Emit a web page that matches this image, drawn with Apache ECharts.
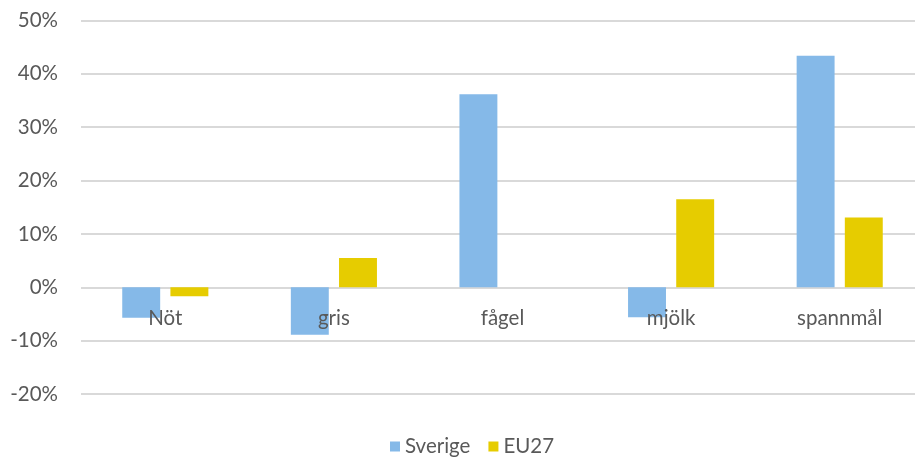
<!DOCTYPE html>
<html>
<head>
<meta charset="utf-8">
<script src="https://cdn.jsdelivr.net/npm/echarts@6/dist/echarts.min.js"></script>
<style>
  html, body { margin: 0; padding: 0; background: #fff; }
  #chart { width: 915px; height: 458px; }
</style>
</head>
<body>
<div id="chart"></div>
<script>
// data (percent)
var categories = ['Nöt', 'gris', 'fågel', 'mjölk', 'spannmål'];
var sverige = [-5.7, -8.9, 36.2, -5.6, 43.4];
var eu27 = [-1.7, 5.5, 0, 16.5, 13.1];
var seriesNames = ['Sverige', 'EU27'];

var textColor = '#595959',
    lineColor = '#d9d9d9',
    font = 'Lato',
    fontSize = 20.5;

var myChart = echarts.init(document.getElementById('chart'));
var option = {
  animation: false,
  textStyle: { fontFamily: font },
  // plot area runs a little past the right edge, as in the original crop
  grid: { left: 81, width: 843, top: 20.5, height: 373.5, outerBoundsMode: 'none' },
  legend: {
    data: seriesNames,
    top: 431,
    left: 385,
    itemWidth: 10,
    itemHeight: 10,
    itemGap: 18,
    icon: 'rect',
    textStyle: { color: textColor, fontSize: fontSize, fontFamily: font }
  },
  xAxis: {
    type: 'category',
    data: categories,
    z: 5,
    offset: -107,   // labels sit next to the 0% line
    axisLine: { show: false },
    axisTick: { show: false },
    axisLabel: { color: textColor, fontSize: fontSize, margin: 21, fontFamily: font }
  },
  yAxis: {
    type: 'value',
    min: -20,
    max: 50,
    interval: 10,
    axisLine: { show: false },
    axisTick: { show: false },
    splitLine: { lineStyle: { color: lineColor, width: 2 } },
    axisLabel: {
      color: textColor,
      fontSize: fontSize,
      margin: 23,
      fontFamily: font,
      formatter: function(v) { return v + '%'; }
    }
  },
  series: [{
      name: seriesNames[0],
      type: 'bar',
      data: sverige,
      barWidth: '22.5%',
      barGap: '27%',
      itemStyle: { color: '#85b9e8' }
    }, {
      name: seriesNames[1],
      type: 'bar',
      data: eu27,
      barWidth: '22.5%',
      itemStyle: { color: '#e6cc00' }
    }
  ]
};
myChart.setOption(option);
</script>
</body>
</html>
